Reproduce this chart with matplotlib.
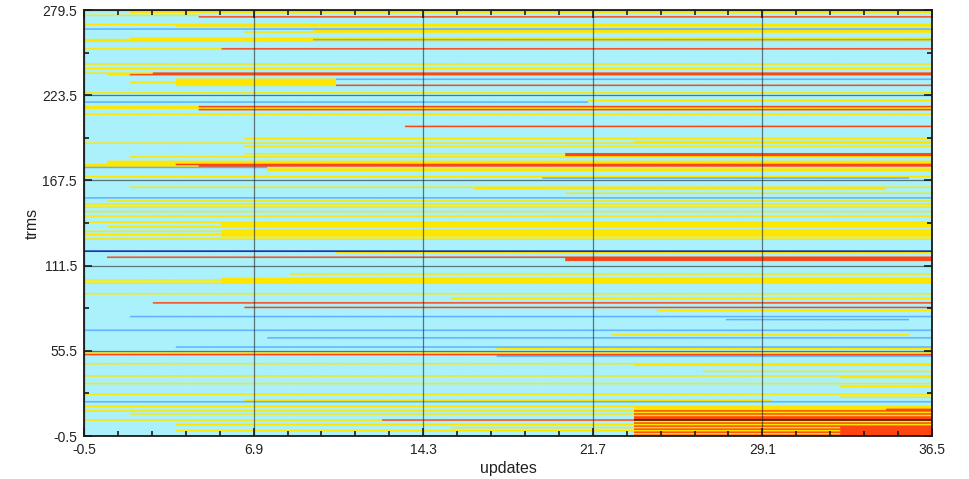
import numpy as np
import matplotlib
matplotlib.use("Agg")
import matplotlib.pyplot as plt
from matplotlib.colors import ListedColormap, BoundaryNorm
from matplotlib.ticker import FixedLocator

plt.rcParams['font.family'] = ['Liberation Sans', 'DejaVu Sans']

n_trms = 280
n_updates = 37

# state codes: 0 idle, 1 low, 2 high, 3 cool, 4 deep, 5 peak
state_colors = ['#aaf1fc', '#ffe600', '#ff4510', '#60b0ff', '#0818a0', '#3a0c04']

# (trm, first update, stop update) runs for each state
low_runs = [
    (278, 2, 37), (276, 0, 5), (270, 0, 37), (269, 4, 37), (266, 10, 37),
    (265, 7, 37), (261, 2, 37), (260, 0, 10), (259, 0, 37), (254, 0, 6),
    (244, 0, 37), (241, 0, 37), (238, 0, 3), (237, 1, 2), (234, 4, 11),
    (233, 4, 11), (232, 2, 11), (231, 4, 11), (230, 4, 11), (225, 0, 37),
    (220, 22, 37), (216, 0, 5), (215, 0, 37), (211, 0, 37), (195, 7, 37),
    (193, 24, 37), (192, 0, 37), (190, 7, 37), (185, 7, 21), (183, 2, 37),
    (180, 1, 37), (179, 1, 37), (178, 0, 4), (177, 0, 5), (175, 8, 37),
    (174, 8, 37), (170, 0, 37), (163, 2, 37), (162, 17, 35), (159, 21, 37),
    (154, 1, 37), (152, 0, 37), (150, 0, 37), (147, 0, 37), (144, 0, 37),
    (140, 0, 37), (139, 6, 37), (138, 6, 37), (137, 1, 37), (135, 6, 37),
    (134, 0, 37), (133, 6, 37), (132, 0, 37), (131, 6, 37), (129, 0, 37),
    (120, 11, 37), (106, 9, 37), (103, 6, 37), (102, 0, 37), (101, 6, 37),
    (100, 0, 37), (93, 0, 37), (90, 16, 37), (82, 25, 37), (66, 23, 36),
    (57, 18, 37), (54, 0, 37), (47, 0, 37), (46, 24, 37), (42, 27, 37),
    (39, 0, 37), (38, 33, 37), (34, 0, 37), (32, 33, 37), (27, 0, 37),
    (25, 33, 37), (23, 7, 30), (19, 0, 37), (18, 24, 37), (17, 24, 35),
    (16, 0, 37), (15, 24, 37), (14, 2, 37), (13, 24, 37), (10, 0, 13),
    (9, 24, 37), (7, 4, 37), (5, 16, 33), (3, 4, 33), (1, 24, 33),
]

high_runs = [
    (275, 5, 37), (254, 6, 37), (238, 3, 37), (237, 2, 37), (230, 11, 37),
    (216, 5, 37), (214, 5, 37), (203, 14, 37), (185, 21, 37), (184, 21, 37),
    (178, 4, 37), (177, 5, 37), (117, 1, 37), (116, 21, 37), (115, 21, 37),
    (87, 3, 37), (84, 7, 37), (53, 0, 37), (17, 35, 37), (16, 24, 37),
    (14, 24, 37), (12, 24, 37), (11, 24, 37), (10, 13, 24), (8, 24, 37),
    (6, 24, 37), (5, 33, 37), (4, 24, 37), (3, 33, 37), (2, 24, 37),
    (1, 33, 37), (0, 24, 37),
]

cool_runs = [
    (267, 0, 37), (260, 10, 37), (234, 11, 37), (219, 0, 22), (176, 0, 8),
    (169, 20, 36), (156, 0, 37), (78, 2, 37), (76, 28, 36), (69, 0, 37),
    (64, 8, 37), (58, 4, 37), (52, 18, 37), (22, 0, 37),
]

deep_runs = [(121, 0, 37)]

peak_runs = [(10, 24, 37)]

x_ticks = [-0.5, 6.9, 14.3, 21.7, 29.1, 36.5]
y_ticks = [-0.5, 55.5, 111.5, 167.5, 223.5, 279.5]
x_ticklabels = ['-0.5', '6.9', '14.3', '21.7', '29.1', '36.5']
y_ticklabels = ['-0.5', '55.5', '111.5', '167.5', '223.5', '279.5']

grid = np.zeros((n_trms, n_updates), dtype=int)
for code, runs in ((1, low_runs), (2, high_runs), (3, cool_runs),
                   (4, deep_runs), (5, peak_runs)):
    for row, start, stop in runs:
        grid[row, start:stop] = code

# widen each update cell so the smoothing filter only softens the thin rows
cells = np.repeat(grid, 23, axis=1)

cmap = ListedColormap(state_colors)
norm = BoundaryNorm(np.arange(-0.5, len(state_colors) + 0.5), cmap.N)

fig = plt.figure(figsize=(9.69, 4.79), dpi=100)
ax = fig.add_axes([84 / 969, 1 - 436 / 479, 848 / 969, 426 / 479])
ax.imshow(cells, cmap=cmap, norm=norm, origin='lower', aspect='auto',
          extent=(-0.5, n_updates - 0.5, -0.5, n_trms - 0.5),
          interpolation='antialiased', interpolation_stage='rgba')

ax.set_xlim(-0.5, 36.5)
ax.set_ylim(-0.5, 279.5)
ax.set_xticks(x_ticks)
ax.set_xticklabels(x_ticklabels)
ax.set_yticks(y_ticks)
ax.set_yticklabels(y_ticklabels)

x_minor = [a + (b - a) * k / 5 for a, b in zip(x_ticks[:-1], x_ticks[1:]) for k in range(1, 5)]
y_minor = [(a + b) / 2 for a, b in zip(y_ticks[:-1], y_ticks[1:])]
ax.xaxis.set_minor_locator(FixedLocator(x_minor))
ax.yaxis.set_minor_locator(FixedLocator(y_minor))

ax.tick_params(which='both', direction='in', top=True, right=True,
               colors='#1a1a1a', labelcolor='#222222', labelsize=10, width=1.2)
ax.tick_params(which='major', length=6, pad=5)
ax.tick_params(which='minor', length=3.5)

ax.grid(which='major', color='#222222', linewidth=0.9, alpha=0.6)
for s in ax.spines.values():
    s.set_linewidth(1.3)
    s.set_color('#1a1a1a')

ax.set_xlabel('updates', fontsize=11.5, color='#222222', labelpad=3)
ax.set_ylabel('trms', fontsize=11.5, color='#222222')
ax.yaxis.set_label_coords(-44 / 848, 0.5)

fig.savefig('out.png', dpi=100)
